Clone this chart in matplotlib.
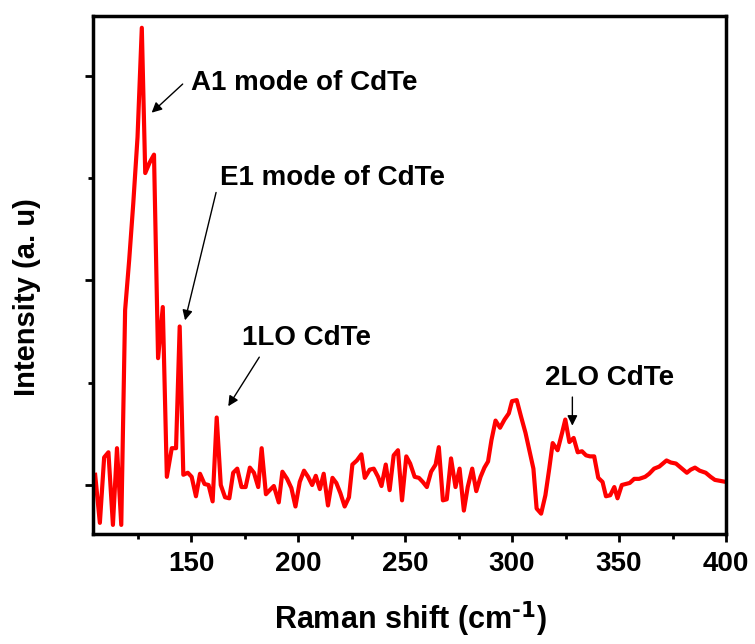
import matplotlib
matplotlib.use('Agg')
import matplotlib.pyplot as plt
from matplotlib.ticker import MultipleLocator

plt.rcParams['font.family'] = ['Liberation Sans', 'DejaVu Sans']
plt.rcParams['font.weight'] = 'bold'
plt.rcParams['mathtext.default'] = 'bf'

# Raman spectrum of CdTe (cm^-1, arbitrary intensity)
shift = [105.2, 107.4, 109.4, 111.4, 113.5, 115.4, 117.4, 119.2, 121.1, 123.0,
         125.0, 127.0, 128.6, 130.6, 132.7, 134.6, 136.8, 138.7, 141.0, 143.0,
         144.7, 146.4, 148.5, 150.3, 152.3, 154.2, 156.3, 158.2, 160.1, 162.0,
         163.9, 165.9, 167.9, 169.7, 171.6, 173.6, 175.5, 177.5, 179.4, 181.4,
         183.0, 185.0, 186.8, 188.7, 191.0, 192.7, 194.9, 196.9, 198.8, 200.8,
         202.8, 204.7, 206.6, 208.3, 210.2, 212.0, 214.0, 216.1, 217.9, 219.8,
         221.8, 223.8, 225.4, 227.5, 229.6, 231.2, 233.5, 235.4, 237.4, 239.0,
         241.0, 242.8, 244.7, 246.7, 248.6, 250.6, 252.4, 254.5, 256.5, 258.3,
         260.2, 262.2, 264.3, 265.8, 267.7, 269.5, 271.5, 273.6, 275.5, 277.5,
         279.3, 281.4, 283.3, 285.3, 287.1, 288.8, 290.4, 292.3, 294.4, 296.5,
         298.5, 300.0, 302.2, 304.2, 306.3, 308.1, 310.0, 311.5, 313.6, 315.6,
         317.4, 319.0, 321.3, 323.4, 324.9, 326.8, 328.8, 330.7, 332.7, 334.6,
         336.4, 338.4, 340.3, 342.3, 343.9, 345.9, 347.8, 349.3, 351.3, 353.2,
         355.0, 357.1, 359.4, 362.2, 364.1, 366.4, 368.8, 372.2, 374.2, 376.6,
         378.9, 381.7, 383.5, 385.5, 387.7, 390.5, 392.8, 394.8, 397.5, 400.0]
intensity = [0.10, -0.37, 0.27, 0.32, -0.39, 0.36, -0.39, 1.71, 2.20, 2.75,
             3.40, 4.47, 3.05, 3.15, 3.23, 1.24, 1.74, 0.08, 0.36, 0.36,
             1.55, 0.10, 0.12, 0.08, -0.11, 0.11, 0.01, 0.00, -0.16, 0.66,
             0.00, -0.12, -0.13, 0.12, 0.16, -0.02, -0.02, 0.17, 0.12, -0.02,
             0.36, -0.09, -0.05, -0.01, -0.17, 0.13, 0.06, -0.03, -0.21, 0.03,
             0.14, 0.08, 0.00, 0.09, -0.04, 0.11, -0.20, 0.07, 0.02, -0.08,
             -0.21, -0.12, 0.20, 0.24, 0.30, 0.07, 0.15, 0.16, 0.08, -0.01,
             0.20, -0.05, 0.29, 0.34, -0.15, 0.28, 0.21, 0.08, 0.07, 0.03,
             -0.02, 0.13, 0.20, 0.37, -0.15, -0.14, 0.26, -0.02, 0.16, -0.25,
             -0.02, 0.16, -0.06, 0.08, 0.17, 0.23, 0.44, 0.63, 0.56, 0.64,
             0.70, 0.82, 0.83, 0.67, 0.51, 0.34, 0.16, -0.23, -0.28, -0.10,
             0.16, 0.41, 0.34, 0.51, 0.64, 0.42, 0.46, 0.32, 0.33, 0.29,
             0.28, 0.28, 0.07, 0.03, -0.11, -0.10, -0.02, -0.13, 0.00, 0.01,
             0.02, 0.06, 0.06, 0.08, 0.11, 0.16, 0.18, 0.24, 0.22, 0.21,
             0.17, 0.12, 0.15, 0.17, 0.14, 0.12, 0.08, 0.05, 0.04, 0.03]

# peak labels: text, text position, arrow tail, arrow head
labels = ['A1 mode of CdTe', 'E1 mode of CdTe', '1LO CdTe', '2LO CdTe']
label_xy = [(149.9, 3.86), (163.6, 2.93), (173.7, 1.37), (315.4, 0.98)]
arrow_tail = [(146.1, 3.92), (161.7, 2.86), (181.9, 1.25), (328.2, 0.86)]
arrow_head = [(131.6, 3.64), (147.2, 1.61), (167.4, 0.77), (328.2, 0.58)]

fig = plt.figure(figsize=(7.55, 6.44), dpi=100)
ax = fig.add_axes([0.1232, 0.1708, 0.8384, 0.8051])

ax.plot(shift, intensity, color='red', lw=3)

for txt, pos, tail, head in zip(labels, label_xy, arrow_tail, arrow_head):
    ax.text(pos[0], pos[1], txt, fontsize=20, fontweight='bold',
            ha='left', va='baseline')
    ax.annotate('', xy=head, xytext=tail,
                arrowprops=dict(arrowstyle='-|>', color='black', lw=1,
                                mutation_scale=15, shrinkA=0, shrinkB=0))

ax.set_xlim(104.2, 400)
ax.set_ylim(-0.479, 4.59)
ax.xaxis.set_major_locator(MultipleLocator(50))
ax.xaxis.set_minor_locator(MultipleLocator(25))
ax.yaxis.set_major_locator(MultipleLocator(2))
ax.yaxis.set_minor_locator(MultipleLocator(1))

for sp in ax.spines.values():
    sp.set_linewidth(2.5)
ax.tick_params(which='major', direction='out', length=6, width=2,
               labelsize=20, pad=6)
ax.tick_params(which='minor', direction='out', length=3.5, width=2)
ax.tick_params(axis='y', which='both', labelleft=False)
for lab in ax.get_xticklabels():
    lab.set_fontweight('bold')

ax.set_xlabel(r'Raman shift (cm$^{\text{-1}}$)', fontsize=22, fontweight='bold')
ax.xaxis.set_label_coords(0.501, -0.127)
ax.set_ylabel('Intensity (a. u)', fontsize=21, fontweight='bold')
ax.yaxis.set_label_coords(-0.104, 0.457)
ax.yaxis.label.set_va('center')

fig.savefig('out.png', dpi=100)
